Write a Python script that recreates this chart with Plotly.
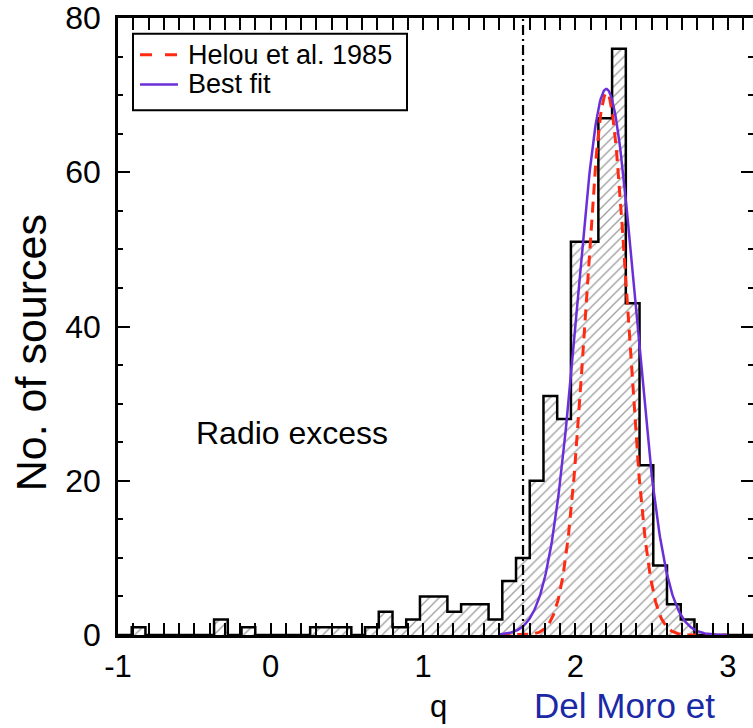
import numpy as np
import plotly.graph_objects as go

# ---------------- data ----------------
bin_start = -1.0          # left edge of first bin (q)
bin_width = 0.09          # histogram bin width (q)
counts = [0, 1, 0, 0, 0, 0, 0, 2, 0, 1,
          0, 0, 0, 0, 1, 1, 1, 0, 1, 3,
          1, 2, 5, 5, 3, 4, 4, 2, 7, 10,
          20, 31, 28, 51, 51, 67, 76, 43, 22, 9,
          4, 2, 0, 0, 0, 0, 0]

# Gaussian model curves (peak, centre, sigma)
helou_params = (70.3, 2.204, 0.136)     # Helou et al. 1985
bestfit_params = (70.8, 2.202, 0.190)   # Best fit
curve_q_range = (1.50, 3.00)

radio_excess_cut = 1.656   # dash-dot threshold line (q)

x_ticks = [-1, 0, 1, 2, 3]
y_ticks = [0, 20, 40, 60, 80]
legend_labels = ["Helou et al. 1985", "Best fit"]

# ---------------- derived ----------------
n = len(counts)
edges = np.round(bin_start + bin_width * np.arange(n + 1), 4)
centers = edges[:-1] + bin_width / 2

step_x = [edges[0]] + list(edges[:-1]) + [edges[-1], edges[-1]]
step_y = [0] + list(counts) + [counts[-1], 0]

qq = np.linspace(curve_q_range[0], curve_q_range[1], 301)
def gauss(p):
    a, m, s = p
    return a * np.exp(-0.5 * ((qq - m) / s) ** 2)

FONT = "Liberation Sans, Arial, Helvetica, sans-serif"
RED = "#ff2a12"
PURPLE = "#6a2fd8"

# plot area in pixels (for paper-coordinate conversion of decorations)
W, H = 753, 728
L, R, T, B = 118, 0, 13, 93
PW, PH = W - L - R, H - T - B
def px(x):  # pixel x -> paper x
    return (x - L) / PW
def py(y):  # pixel y -> paper y
    return (H - B - y) / PH

fig = go.Figure()

fig.add_trace(go.Bar(
    x=centers, y=counts, width=bin_width,
    marker=dict(color="white", line=dict(width=0),
                pattern=dict(shape="/", fgcolor="#444444", bgcolor="white",
                             size=7, solidity=0.2)),
    showlegend=False, hoverinfo="skip"))

fig.add_trace(go.Scatter(
    x=step_x, y=step_y, mode="lines", line=dict(color="black", width=2.5, shape="hv"),
    showlegend=False, hoverinfo="skip"))

fig.add_trace(go.Scatter(
    x=qq, y=gauss(helou_params), mode="lines", name=legend_labels[0],
    line=dict(color=RED, width=3, dash="11px,7px"), showlegend=False))

fig.add_trace(go.Scatter(
    x=qq, y=gauss(bestfit_params), mode="lines", name=legend_labels[1],
    line=dict(color=PURPLE, width=2.5), showlegend=False))

# right-side ticks only (the right frame line is outside the picture)
fig.add_trace(go.Scatter(x=[None], y=[None], yaxis="y2", showlegend=False, hoverinfo="skip"))

fig.add_shape(type="line", xref="x", yref="y",
              x0=radio_excess_cut, x1=radio_excess_cut, y0=0, y1=80,
              line=dict(color="black", width=2.2, dash="10px,4px,2px,4px"))

# manual legend box
fig.add_shape(type="rect", xref="paper", yref="paper",
              x0=px(133), x1=px(407), y0=py(106), y1=py(29),
              line=dict(color="black", width=2), fillcolor="white", layer="above")
fig.add_shape(type="line", xref="paper", yref="paper",
              x0=px(140), x1=px(178), y0=py(50), y1=py(50),
              line=dict(color=RED, width=3, dash="12px,13px"), layer="above")
fig.add_shape(type="line", xref="paper", yref="paper",
              x0=px(140), x1=px(178), y0=py(80), y1=py(80),
              line=dict(color=PURPLE, width=2.5), layer="above")
for lab, yy in zip(legend_labels, [50, 80]):
    fig.add_annotation(text=lab, xref="paper", yref="paper",
                       x=px(186), y=py(yy), xanchor="left", yanchor="middle",
                       showarrow=False, font=dict(family=FONT, size=27, color="black"))

axis_common = dict(
    showline=True, linecolor="black", linewidth=2.5,
    ticks="inside", ticklen=12, tickwidth=2, tickcolor="black",
    showgrid=False, zeroline=False, ticklabeloverflow="allow",
)

fig.update_xaxes(range=[-1, 3.164], tickvals=x_ticks, ticktext=[str(v) for v in x_ticks],
                 mirror="allticks",
                 minor=dict(dtick=0.1, tick0=0, ticks="inside", ticklen=5, tickwidth=2,
                            tickcolor="black", showgrid=False),
                 tickfont=dict(family=FONT, size=31, color="black"),
                 ticklabelstandoff=2, **axis_common)
fig.update_yaxes(range=[0, 80], tickvals=y_ticks, ticktext=[str(v) for v in y_ticks],
                 mirror=False,
                 minor=dict(dtick=5, tick0=0, ticks="inside", ticklen=5, tickwidth=2,
                            tickcolor="black", showgrid=False),
                 tickfont=dict(family=FONT, size=32, color="black"),
                 ticklabelstandoff=8, **axis_common)

fig.update_layout(yaxis2=dict(
    overlaying="y", side="right", anchor="x", range=[0, 80], showline=False,
    tickvals=y_ticks, ticks="inside", ticklen=12, tickwidth=2, tickcolor="black",
    showticklabels=False, showgrid=False, zeroline=False,
    minor=dict(dtick=5, tick0=0, ticks="inside", ticklen=5, tickwidth=2,
               tickcolor="black", showgrid=False)))

fig.add_annotation(text="No. of sources", xref="paper", yref="paper",
                   x=px(31), y=py(350), xanchor="center", yanchor="middle",
                   textangle=-90, showarrow=False,
                   font=dict(family=FONT, size=43, color="black"))
fig.add_annotation(text="q", xref="paper", yref="paper",
                   x=px(438), y=py(707), xanchor="center", yanchor="middle",
                   showarrow=False, borderpad=0,
                   font=dict(family=FONT, size=31, color="black"))
fig.add_annotation(text="Radio excess", xref="paper", yref="paper",
                   x=px(194), y=py(431), xanchor="left", yanchor="middle",
                   showarrow=False, font=dict(family=FONT, size=32, color="black"))
fig.add_annotation(text="Del Moro et", xref="paper", yref="paper",
                   x=px(533), y=py(706), xanchor="left", yanchor="middle",
                   showarrow=False, borderpad=0,
                   font=dict(family=FONT, size=35, color="#1a2aa6"))

fig.update_layout(
    width=W, height=H,
    margin=dict(l=L, r=R, t=T, b=B, pad=0),
    paper_bgcolor="white", plot_bgcolor="white",
    bargap=0, showlegend=False,
    font=dict(family=FONT),
)

fig.write_html("out.html")
